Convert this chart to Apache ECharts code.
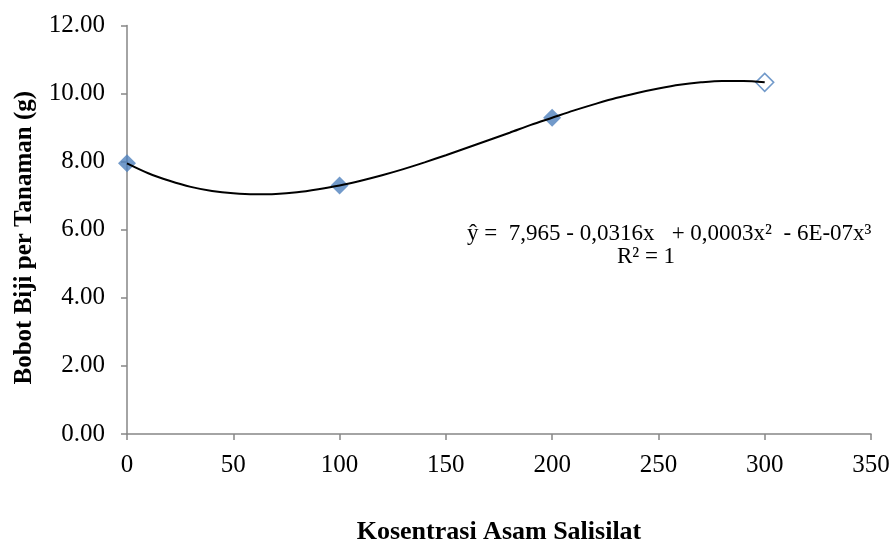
<!DOCTYPE html>
<html>
<head>
<meta charset="utf-8">
<script src="https://cdn.jsdelivr.net/npm/echarts@6/dist/echarts.min.js"></script>
<style>html,body{margin:0;padding:0;background:#fff;}#c{width:893px;height:545px;}</style>
</head>
<body>
<div id="c"></div>
<script>
var pointX = [0, 100, 200, 300];
var pointY = [7.95, 7.30, 9.29, 10.33];
var trendX = [0, 10, 20, 30, 40, 50, 60, 70, 80, 90, 100, 110, 120, 130, 140, 150,
              160, 170, 180, 190, 200, 210, 220, 230, 240, 250, 260, 270, 280, 290, 300];
var trendY = [7.95, 7.66, 7.44, 7.26, 7.14, 7.07, 7.04, 7.05, 7.10, 7.19, 7.30, 7.44, 7.60, 7.78, 7.98, 8.19,
              8.41, 8.63, 8.85, 9.08, 9.29, 9.50, 9.69, 9.87, 10.02, 10.15, 10.26, 10.33, 10.37, 10.37, 10.33];
var yTicks = [0, 2, 4, 6, 8, 10, 12];
var xTicks = [0, 50, 100, 150, 200, 250, 300, 350];
var xTitle = 'Kosentrasi Asam Salisilat';
var yTitle = 'Bobot Biji per Tanaman (g)';
var eqText = 'ŷ =  7,965 - 0,0316x   + 0,0003x²  - 6E-07x³';
var r2Text = 'R² = 1';

var font = 'Liberation Serif';
var blue = '#4F81BD';
var axisGray = '#868686';

var pts = pointX.map(function (x, i) {
  var d = { value: [x, pointY[i]] };
  if (i === pointX.length - 1) {
    d.itemStyle = { color: '#ffffff', borderColor: blue, borderWidth: 1.5 };
  }
  return d;
});
var trend = trendX.map(function (x, i) { return [x, trendY[i]]; });

var chart = echarts.init(document.getElementById('c'));
chart.setOption({
  animation: false,
  backgroundColor: '#ffffff',
  grid: { left: 127, right: 22, top: 25.5, bottom: 111, containLabel: false, outerBoundsMode: 'none' },
  xAxis: {
    type: 'value', min: xTicks[0], max: xTicks[xTicks.length - 1], interval: 50,
    name: xTitle, nameLocation: 'middle', nameGap: 85,
    nameTextStyle: { fontFamily: font, fontSize: 26, fontWeight: 'bold', color: '#000' },
    axisLine: { show: true, lineStyle: { color: axisGray, width: 1.5 } },
    axisTick: { show: true, inside: false, length: 6, lineStyle: { color: axisGray, width: 1.5 } },
    axisLabel: { fontFamily: font, fontSize: 25, color: '#000', margin: 19 },
    splitLine: { show: false }
  },
  yAxis: {
    type: 'value', min: yTicks[0], max: yTicks[yTicks.length - 1], interval: 2,
    name: yTitle, nameLocation: 'middle', nameGap: 90, nameRotate: 90,
    nameTextStyle: { fontFamily: font, fontSize: 25, fontWeight: 'bold', color: '#000', padding: [0, 16, 0, 0] },
    axisLine: { show: true, lineStyle: { color: axisGray, width: 1.5 } },
    axisTick: { show: true, inside: false, length: 6, lineStyle: { color: axisGray, width: 1.5 } },
    axisLabel: { fontFamily: font, fontSize: 25, color: '#000', margin: 22,
      formatter: function (v) { return v.toFixed(2); } },
    splitLine: { show: false }
  },
  series: [
    {
      type: 'line', data: trend, smooth: 0.3, showSymbol: false, silent: true,
      lineStyle: { color: '#000', width: 2 }, z: 3
    },
    {
      type: 'scatter', data: pts, symbol: 'diamond', symbolSize: 18,
      itemStyle: { color: blue }, z: 2
    }
  ],
  graphic: [
    { type: 'text', left: 467, top: 222,
      style: { text: eqText, fontFamily: font, fontSize: 23, fill: '#000' } },
    { type: 'text', x: 646, y: 257,
      style: { text: r2Text, fontFamily: font, fontSize: 23, fill: '#000', align: 'center', verticalAlign: 'middle' } }
  ]
});
</script>
</body>
</html>
